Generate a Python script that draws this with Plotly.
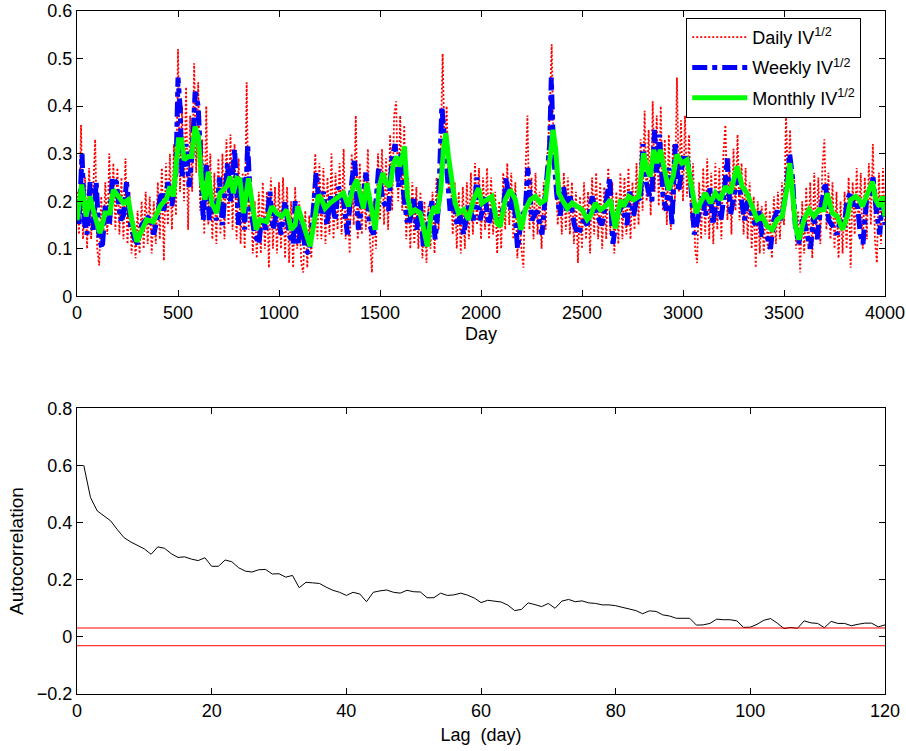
import plotly.graph_objects as go

# ---------------- Top panel data ----------------
daily_day = list(range(0, 4001, 10))
daily_val = [
    0.22, 0.13, 0.36, 0.12, 0.25, 0.10, 0.27, 0.12, 0.22, 0.33,
    0.10, 0.065, 0.21, 0.11, 0.24, 0.13, 0.30, 0.15, 0.28, 0.14,
    0.27, 0.13, 0.25, 0.12, 0.29, 0.11, 0.22, 0.09, 0.16, 0.08,
    0.18, 0.09, 0.20, 0.10, 0.22, 0.11, 0.21, 0.09, 0.20, 0.11,
    0.24, 0.12, 0.27, 0.075, 0.28, 0.15, 0.30, 0.14, 0.32, 0.17,
    0.52, 0.22, 0.40, 0.20, 0.44, 0.14, 0.38, 0.22, 0.49, 0.26,
    0.45, 0.18, 0.33, 0.13, 0.40, 0.15, 0.30, 0.12, 0.26, 0.11,
    0.29, 0.13, 0.30, 0.12, 0.33, 0.15, 0.34, 0.14, 0.32, 0.12,
    0.29, 0.11, 0.26, 0.10, 0.45, 0.14, 0.25, 0.09, 0.20, 0.08,
    0.22, 0.09, 0.24, 0.10, 0.22, 0.06, 0.25, 0.10, 0.23, 0.09,
    0.24, 0.10, 0.25, 0.08, 0.23, 0.07, 0.20, 0.06, 0.23, 0.10,
    0.20, 0.07, 0.05, 0.18, 0.06, 0.17, 0.08, 0.22, 0.30, 0.12,
    0.28, 0.12, 0.27, 0.11, 0.25, 0.13, 0.30, 0.12, 0.26, 0.14,
    0.28, 0.13, 0.31, 0.12, 0.20, 0.09, 0.30, 0.15, 0.38, 0.12,
    0.28, 0.13, 0.26, 0.14, 0.31, 0.12, 0.05, 0.20, 0.10, 0.30,
    0.16, 0.31, 0.15, 0.29, 0.14, 0.34, 0.18, 0.38, 0.41, 0.20,
    0.38, 0.18, 0.36, 0.12, 0.25, 0.10, 0.24, 0.11, 0.23, 0.10,
    0.22, 0.08, 0.20, 0.07, 0.19, 0.10, 0.22, 0.09, 0.25, 0.14,
    0.30, 0.51, 0.30, 0.40, 0.22, 0.27, 0.13, 0.24, 0.10, 0.22,
    0.09, 0.23, 0.10, 0.24, 0.12, 0.26, 0.13, 0.28, 0.15, 0.27,
    0.12, 0.25, 0.14, 0.27, 0.12, 0.25, 0.13, 0.22, 0.09, 0.20,
    0.10, 0.26, 0.14, 0.28, 0.15, 0.26, 0.12, 0.24, 0.08, 0.18,
    0.10, 0.06, 0.26, 0.38, 0.14, 0.25, 0.12, 0.26, 0.13, 0.22,
    0.10, 0.24, 0.14, 0.30, 0.38, 0.53, 0.30, 0.26, 0.15, 0.24,
    0.13, 0.26, 0.14, 0.25, 0.13, 0.24, 0.11, 0.22, 0.07, 0.21,
    0.10, 0.24, 0.12, 0.22, 0.09, 0.25, 0.13, 0.26, 0.12, 0.24,
    0.10, 0.23, 0.12, 0.27, 0.13, 0.24, 0.09, 0.22, 0.11, 0.26,
    0.12, 0.25, 0.13, 0.27, 0.12, 0.24, 0.14, 0.28, 0.15, 0.33,
    0.18, 0.39, 0.20, 0.35, 0.17, 0.41, 0.22, 0.38, 0.19, 0.40,
    0.18, 0.33, 0.15, 0.34, 0.14, 0.32, 0.20, 0.46, 0.22, 0.37,
    0.20, 0.38, 0.21, 0.34, 0.16, 0.28, 0.10, 0.07, 0.24, 0.12,
    0.27, 0.13, 0.29, 0.12, 0.26, 0.11, 0.28, 0.14, 0.27, 0.12,
    0.30, 0.36, 0.16, 0.29, 0.13, 0.31, 0.18, 0.34, 0.16, 0.28,
    0.13, 0.27, 0.12, 0.24, 0.10, 0.21, 0.06, 0.20, 0.09, 0.19,
    0.09, 0.20, 0.10, 0.18, 0.08, 0.21, 0.11, 0.22, 0.12, 0.24,
    0.15, 0.38, 0.22, 0.35, 0.18, 0.25, 0.10, 0.18, 0.05, 0.20,
    0.09, 0.23, 0.10, 0.24, 0.08, 0.26, 0.12, 0.25, 0.11, 0.27,
    0.33, 0.14, 0.26, 0.12, 0.24, 0.10, 0.22, 0.08, 0.20, 0.09,
    0.22, 0.10, 0.25, 0.06, 0.24, 0.13, 0.27, 0.14, 0.26, 0.10,
    0.25, 0.12, 0.28, 0.15, 0.32, 0.12, 0.07, 0.26, 0.11, 0.27,
    0.15,
]

week_day = [
    0, 10, 25, 35, 50, 65, 80, 95, 110, 125, 140, 160, 175, 195, 215, 230, 245, 265, 285, 300,
    320, 340, 360, 380, 400, 415, 430, 450, 470, 490, 500, 510, 520, 540, 555, 570, 585, 600, 610, 625,
    640, 655, 670, 690, 705, 720, 745, 760, 780, 800, 815, 830, 845, 860, 880, 900, 915, 935, 955, 970,
    990, 1010, 1030, 1050, 1070, 1080, 1096, 1113, 1129, 1146, 1162, 1184, 1204, 1220, 1237, 1256, 1278, 1294, 1319, 1339,
    1360, 1374, 1393, 1415, 1431, 1448, 1468, 1493, 1514, 1542, 1559, 1575, 1592, 1603, 1616, 1633, 1649, 1666, 1682, 1699,
    1715, 1732, 1757, 1773, 1790, 1806, 1818, 1831, 1847, 1864, 1881, 1897, 1914, 1938, 1963, 1980, 1996, 2021, 2037, 2062,
    2087, 2112, 2125, 2145, 2161, 2181, 2202, 2219, 2232, 2252, 2277, 2302, 2323, 2340, 2348, 2359, 2376, 2392, 2409, 2425,
    2442, 2462, 2483, 2506, 2526, 2550, 2574, 2599, 2620, 2637, 2653, 2673, 2698, 2723, 2736, 2756, 2772, 2789, 2802, 2818,
    2835, 2846, 2858, 2871, 2884, 2901, 2917, 2930, 2945, 2962, 2979, 3000, 3020, 3036, 3056, 3073, 3094, 3111, 3132, 3149,
    3168, 3188, 3205, 3218, 3235, 3251, 3268, 3287, 3304, 3320, 3342, 3358, 3375, 3391, 3413, 3433, 3449, 3466, 3482, 3499,
    3515, 3528, 3542, 3556, 3573, 3594, 3614, 3631, 3647, 3664, 3680, 3705, 3721, 3738, 3763, 3779, 3796, 3812, 3829, 3845,
    3862, 3878, 3891, 3908, 3924, 3941, 3957, 3974, 3985, 4000,
]
week_val = [
    0.19, 0.15, 0.30, 0.16, 0.13, 0.24, 0.14, 0.24, 0.12, 0.10, 0.19, 0.15, 0.25, 0.24, 0.16, 0.17, 0.24, 0.15, 0.12, 0.11,
    0.15, 0.16, 0.17, 0.13, 0.17, 0.22, 0.18, 0.24, 0.19, 0.26, 0.46, 0.40, 0.25, 0.32, 0.23, 0.30, 0.43, 0.40, 0.28, 0.16,
    0.28, 0.16, 0.20, 0.16, 0.25, 0.15, 0.28, 0.20, 0.31, 0.15, 0.25, 0.14, 0.32, 0.18, 0.13, 0.11, 0.17, 0.14, 0.22, 0.14,
    0.18, 0.13, 0.20, 0.13, 0.11, 0.20, 0.11, 0.16, 0.10, 0.09, 0.14, 0.26, 0.17, 0.22, 0.15, 0.21, 0.16, 0.23, 0.20, 0.13,
    0.24, 0.29, 0.14, 0.20, 0.26, 0.15, 0.13, 0.27, 0.20, 0.18, 0.29, 0.32, 0.23, 0.30, 0.22, 0.16, 0.16, 0.21, 0.14, 0.20,
    0.10, 0.14, 0.20, 0.12, 0.19, 0.40, 0.34, 0.27, 0.18, 0.21, 0.15, 0.17, 0.13, 0.19, 0.16, 0.25, 0.16, 0.21, 0.15, 0.19,
    0.15, 0.19, 0.25, 0.18, 0.22, 0.10, 0.17, 0.18, 0.27, 0.16, 0.18, 0.13, 0.25, 0.32, 0.46, 0.30, 0.21, 0.17, 0.23, 0.18,
    0.21, 0.15, 0.13, 0.16, 0.15, 0.21, 0.17, 0.15, 0.20, 0.25, 0.11, 0.17, 0.19, 0.15, 0.22, 0.17, 0.21, 0.20, 0.32, 0.24,
    0.21, 0.20, 0.35, 0.26, 0.34, 0.21, 0.18, 0.27, 0.15, 0.32, 0.22, 0.29, 0.29, 0.25, 0.13, 0.16, 0.21, 0.17, 0.23, 0.15,
    0.22, 0.16, 0.22, 0.29, 0.17, 0.21, 0.25, 0.21, 0.16, 0.20, 0.17, 0.15, 0.18, 0.13, 0.13, 0.10, 0.16, 0.18, 0.16, 0.19,
    0.24, 0.30, 0.25, 0.15, 0.11, 0.17, 0.13, 0.10, 0.17, 0.12, 0.18, 0.24, 0.16, 0.15, 0.13, 0.16, 0.14, 0.20, 0.22, 0.19,
    0.20, 0.13, 0.11, 0.20, 0.21, 0.25, 0.18, 0.13, 0.20, 0.15,
]

month_day = [
    0, 23, 45, 64, 84, 114, 139, 163, 180, 205, 230, 254, 271, 296, 320, 345, 378, 411, 444, 460,
    477, 502, 518, 530, 551, 568, 584, 601, 617, 634, 650, 667, 692, 708, 741, 758, 774, 791, 807, 824,
    849, 865, 887, 906, 939, 964, 989, 1014, 1038, 1060, 1080, 1093, 1121, 1154, 1179, 1195, 1212, 1228, 1253, 1278,
    1303, 1319, 1344, 1369, 1385, 1402, 1418, 1435, 1456, 1476, 1497, 1514, 1530, 1550, 1567, 1583, 1596, 1608, 1621, 1636,
    1653, 1674, 1699, 1715, 1735, 1751, 1768, 1784, 1801, 1814, 1826, 1839, 1856, 1872, 1889, 1914, 1938, 1963, 1988, 2004,
    2029, 2054, 2079, 2095, 2120, 2145, 2170, 2198, 2219, 2244, 2269, 2294, 2319, 2340, 2357, 2370, 2385, 2402, 2427, 2451,
    2476, 2501, 2526, 2541, 2566, 2591, 2615, 2640, 2665, 2690, 2706, 2731, 2756, 2781, 2805, 2822, 2838, 2855, 2871, 2888,
    2905, 2929, 2951, 2970, 2995, 3020, 3045, 3066, 3086, 3111, 3136, 3160, 3185, 3210, 3235, 3268, 3293, 3317, 3342, 3367,
    3392, 3417, 3441, 3466, 3491, 3516, 3529, 3541, 3557, 3574, 3599, 3624, 3648, 3673, 3698, 3714, 3739, 3764, 3789, 3814,
    3830, 3855, 3872, 3888, 3913, 3938, 3954, 3971, 3987, 4000,
]
month_val = [
    0.16, 0.235, 0.168, 0.21, 0.175, 0.133, 0.175, 0.175, 0.224, 0.21, 0.196, 0.203, 0.161, 0.115, 0.14, 0.161, 0.157, 0.189, 0.206, 0.231,
    0.21, 0.329, 0.329, 0.287, 0.294, 0.294, 0.357, 0.336, 0.238, 0.203, 0.262, 0.196, 0.175, 0.217, 0.231, 0.252, 0.217, 0.248, 0.245, 0.175,
    0.248, 0.196, 0.14, 0.161, 0.157, 0.189, 0.175, 0.168, 0.182, 0.14, 0.15, 0.189, 0.147, 0.105, 0.168, 0.213, 0.203, 0.185, 0.196, 0.203,
    0.21, 0.217, 0.189, 0.231, 0.245, 0.21, 0.185, 0.238, 0.182, 0.14, 0.231, 0.259, 0.238, 0.231, 0.28, 0.294, 0.273, 0.287, 0.315, 0.21,
    0.175, 0.182, 0.175, 0.147, 0.105, 0.168, 0.189, 0.175, 0.224, 0.308, 0.343, 0.294, 0.238, 0.196, 0.175, 0.182, 0.161, 0.203, 0.227, 0.196,
    0.203, 0.21, 0.154, 0.147, 0.203, 0.224, 0.203, 0.14, 0.182, 0.203, 0.21, 0.196, 0.203, 0.273, 0.35, 0.308, 0.217, 0.203, 0.185, 0.196,
    0.189, 0.182, 0.161, 0.168, 0.196, 0.182, 0.189, 0.203, 0.143, 0.203, 0.189, 0.21, 0.203, 0.21, 0.301, 0.266, 0.252, 0.308, 0.28, 0.308,
    0.273, 0.224, 0.252, 0.298, 0.28, 0.287, 0.224, 0.175, 0.196, 0.217, 0.196, 0.217, 0.203, 0.231, 0.217, 0.273, 0.231, 0.217, 0.189, 0.161,
    0.168, 0.147, 0.14, 0.161, 0.168, 0.231, 0.28, 0.231, 0.147, 0.119, 0.161, 0.182, 0.168, 0.182, 0.182, 0.217, 0.175, 0.168, 0.14, 0.168,
    0.203, 0.21, 0.203, 0.189, 0.217, 0.241, 0.203, 0.189, 0.21, 0.168,
]

# ---------------- Bottom panel data ----------------
lags = list(range(1, 121))
acf_val = [
    0.601, 0.488, 0.441, 0.422, 0.406, 0.375, 0.347, 0.332, 0.320, 0.308,
    0.289, 0.315, 0.310, 0.291, 0.278, 0.280, 0.272, 0.267, 0.277, 0.247,
    0.247, 0.269, 0.263, 0.242, 0.230, 0.227, 0.235, 0.236, 0.220, 0.221,
    0.209, 0.215, 0.172, 0.191, 0.189, 0.187, 0.174, 0.163, 0.156, 0.145,
    0.156, 0.150, 0.123, 0.156, 0.161, 0.164, 0.156, 0.153, 0.163, 0.158,
    0.157, 0.137, 0.137, 0.153, 0.145, 0.147, 0.153, 0.146, 0.136, 0.120,
    0.128, 0.125, 0.122, 0.111, 0.092, 0.096, 0.119, 0.113, 0.106, 0.117,
    0.100, 0.125, 0.131, 0.123, 0.126, 0.119, 0.117, 0.112, 0.112, 0.109,
    0.104, 0.099, 0.092, 0.081, 0.091, 0.089, 0.077, 0.073, 0.065, 0.065,
    0.065, 0.041, 0.042, 0.047, 0.062, 0.060, 0.060, 0.056, 0.033, 0.034,
    0.044, 0.058, 0.064, 0.048, 0.029, 0.033, 0.030, 0.056, 0.049, 0.047,
    0.032, 0.054, 0.047, 0.047, 0.039, 0.044, 0.048, 0.048, 0.035, 0.042,
]
conf_band = [0.031, -0.031]

FONT = "Liberation Sans, Arial, Helvetica, sans-serif"

fig = go.Figure()

fig.add_trace(go.Scatter(
    x=daily_day, y=daily_val, mode="lines", name="Daily IV<sup>1/2</sup>",
    legendgroup="d",
    line=dict(color="#ff0000", width=1.8, dash="2px,2px"), xaxis="x", yaxis="y"))
fig.add_trace(go.Scatter(
    x=week_day, y=week_val, mode="lines", name="Weekly IV<sup>1/2</sup>",
    legendgroup="w",
    line=dict(color="#0000ff", width=5, dash="dashdot"), xaxis="x", yaxis="y"))
fig.add_trace(go.Scatter(
    x=month_day, y=month_val, mode="lines", name="Monthly IV<sup>1/2</sup>",
    legendgroup="m",
    line=dict(color="#00ff00", width=5), xaxis="x", yaxis="y"))

fig.add_trace(go.Scatter(
    x=lags, y=acf_val, mode="lines", showlegend=False,
    line=dict(color="black", width=1), xaxis="x2", yaxis="y2"))
for c in conf_band:
    fig.add_trace(go.Scatter(
        x=[0, 120], y=[c, c], mode="lines", showlegend=False,
        line=dict(color="#ff0000", width=1), xaxis="x2", yaxis="y2"))

axis_common = dict(
    showline=True, linecolor="black", linewidth=1.2, mirror="ticks",
    ticks="inside", ticklen=6, tickcolor="black", tickwidth=1,
    showgrid=False, zeroline=False, automargin=False,
    tickfont=dict(family=FONT, size=18, color="black"),
)

fig.update_layout(
    width=906, height=751,
    margin=dict(l=77, r=21, t=11, b=57),
    paper_bgcolor="white", plot_bgcolor="white",
    font=dict(family=FONT, size=18, color="black"),
    xaxis=dict(domain=[0, 1], anchor="y", range=[0, 4000],
               tickvals=[0, 500, 1000, 1500, 2000, 2500, 3000, 3500, 4000],
               title=dict(text="Day", font=dict(size=18), standoff=5), **axis_common),
    yaxis=dict(domain=[0.5823, 1], anchor="x", range=[0, 0.6],
               tickvals=[0, 0.1, 0.2, 0.3, 0.4, 0.5, 0.6],
               ticktext=["0", "0.1", "0.2", "0.3", "0.4", "0.5", "0.6"], **axis_common),
    xaxis2=dict(domain=[0, 1], anchor="y2", range=[0, 120],
                tickvals=[0, 20, 40, 60, 80, 100, 120],
                title=dict(text="Lag\u00a0\u00a0(day)", font=dict(size=18), standoff=8), **axis_common),
    yaxis2=dict(domain=[0, 0.4183], anchor="x2", range=[-0.2, 0.8],
                tickvals=[-0.2, 0, 0.2, 0.4, 0.6, 0.8],
                ticktext=["\u22120.2", "0", "0.2", "0.4", "0.6", "0.8"],
                title=dict(text="Autocorrelation", font=dict(size=19), standoff=8), **axis_common),
    legend=dict(x=0.754, y=0.99, xanchor="left", yanchor="top",
                bgcolor="white", bordercolor="black", borderwidth=1,
                font=dict(family=FONT, size=18, color="black"),
                traceorder="grouped", tracegroupgap=4, itemwidth=55),
    showlegend=True,
)

fig.write_html("out.html")
